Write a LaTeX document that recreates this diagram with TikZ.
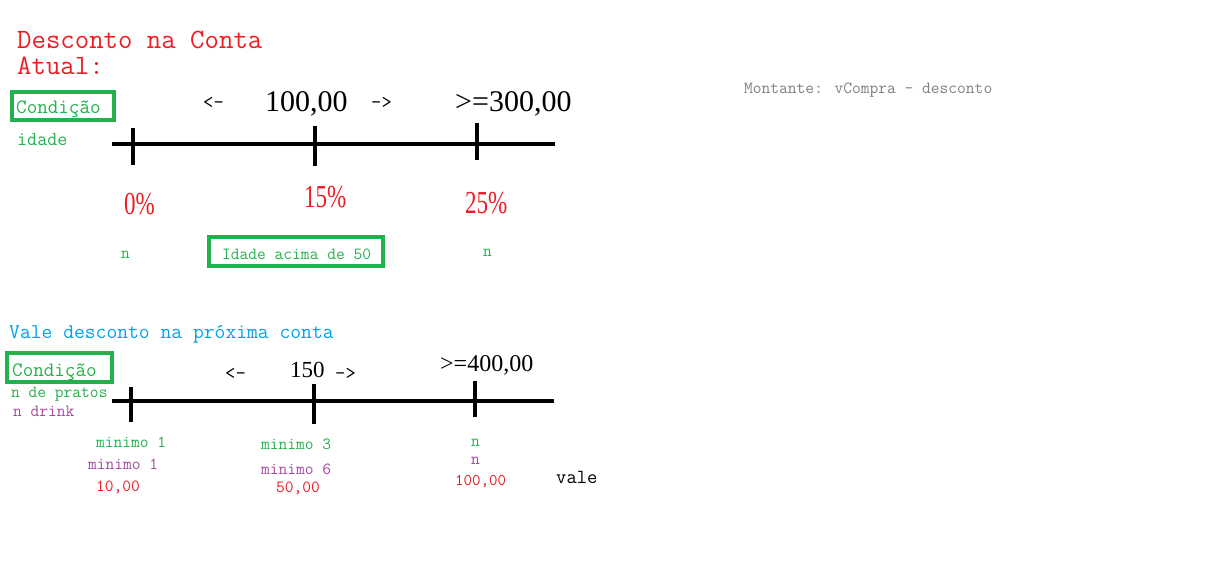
\documentclass[tikz,border=0pt]{standalone}
\usepackage{fontspec}
\setmainfont{Liberation Serif}
\usetikzlibrary{calc}

\definecolor{vermelho}{HTML}{ED1C24}
\definecolor{verde}{HTML}{22B14C}
\definecolor{azul}{HTML}{00A2E8}
\definecolor{roxo}{HTML}{A349A4}
\definecolor{cinza}{HTML}{7F7F7F}
\newcommand{\fsz}[1]{\fontsize{#1}{#1}\selectfont}

\begin{document}
\begin{tikzpicture}[x=1pt, y=-1pt,
  txt/.style={anchor=base west, inner sep=0pt},
  axisline/.style={line width=4.5pt},
  tickline/.style={line width=4.5pt},
  greenbox/.style={draw=verde, line width=3.5pt}]
\useasboundingbox (0,0) rectangle (1212,573);

% titulo
\node[txt, vermelho, align=left, font=\ttfamily\fontsize{28}{25.5}\selectfont] (tit) at (17,74) {Desconto na Conta\\Atual:};
\node[txt, cinza] (mont) at (744,93) {\ttfamily\fsz{17}Montante: vCompra - desconto};

% conta atual
\draw[greenbox] (12,92) rectangle (114,120);
\node[txt, verde] (cond1) at (16,113) {\ttfamily\fsz{20.5}Condição};
\node[txt, verde] (idade) at (17,145) {\ttfamily\fsz{19.5}idade};
\node[txt] (esq1) at (203,108) {\ttfamily\fsz{20}<-};
\node[txt] (val1) at (265,111) {\fsz{30}100,00};
\node[txt] (dir1) at (371,108) {\ttfamily\fsz{20}->};
\node[txt] (val2) at (455,111) {\fsz{30}>=300,00};

\coordinate (A0) at (112,144);
\coordinate (A1) at (555,144);
\draw[axisline] (A0) -- (A1);
\coordinate (T1a) at (133,128); \coordinate (T1b) at (133,165);
\coordinate (T2a) at (315,126); \coordinate (T2b) at (315,166);
\coordinate (T3a) at (477,123); \coordinate (T3b) at (477,160);
\draw[tickline] (T1a) -- (T1b);
\draw[tickline] (T2a) -- (T2b);
\draw[tickline] (T3a) -- (T3b);

\node[txt, vermelho, xscale=.72] (p0) at (124,214) {\fsz{32}0\%};
\node[txt, vermelho, xscale=.72] (p15) at (304,207) {\fsz{32}15\%};
\node[txt, vermelho, xscale=.72] (p25) at (465,213) {\fsz{32}25\%};

\node[txt, verde] (n1) at (121,258) {\ttfamily\fsz{17}n};
\node[txt, verde] (n2) at (483,256) {\ttfamily\fsz{17}n};
\draw[greenbox] (209,237) rectangle (383,266);
\node[txt, verde] (acima) at (222,259) {\ttfamily\fsz{17}Idade acima de 50};

% proxima conta
\node[txt, azul] (vale1) at (9,338) {\ttfamily\fsz{21}Vale desconto na próxima conta};
\draw[greenbox] (7,353) rectangle (112,382);
\node[txt, verde] (cond2) at (12,376) {\ttfamily\fsz{20.5}Condição};
\node[txt, verde] (prat) at (11,397) {\ttfamily\fsz{17}n de pratos};
\node[txt, roxo] (drink) at (13,416) {\ttfamily\fsz{17}n drink};
\node[txt] (esq2) at (225,379) {\ttfamily\fsz{20}<-};
\node[txt] (val3) at (290,377) {\fsz{23}150};
\node[txt] (dir2) at (335,379) {\ttfamily\fsz{20}->};
\node[txt] (val4) at (440,371) {\fsz{24}>=400,00};

\coordinate (B0) at (112,401);
\coordinate (B1) at (554,401);
\draw[axisline] (B0) -- (B1);
\coordinate (U1a) at (131,387); \coordinate (U1b) at (131,422);
\coordinate (U2a) at (314,384); \coordinate (U2b) at (314,424);
\coordinate (U3a) at (475,381); \coordinate (U3b) at (475,417);
\draw[tickline] (U1a) -- (U1b);
\draw[tickline] (U2a) -- (U2b);
\draw[tickline] (U3a) -- (U3b);

\node[txt, verde] (m1) at (96,447) {\ttfamily\fsz{17}minimo 1};
\node[txt, roxo] (m2) at (88,469) {\ttfamily\fsz{17}minimo 1};
\node[txt, vermelho] (r1) at (96,491) {\ttfamily\fsz{17}10,00};
\node[txt, verde] (m3) at (261,449) {\ttfamily\fsz{17}minimo 3};
\node[txt, roxo] (m4) at (261,474) {\ttfamily\fsz{17}minimo 6};
\node[txt, vermelho] (r2) at (276,492) {\ttfamily\fsz{17}50,00};
\node[txt, verde] (n3) at (471,446) {\ttfamily\fsz{17}n};
\node[txt, roxo] (n4) at (471,464) {\ttfamily\fsz{17}n};
\node[txt, vermelho] (r3) at (455,485) {\ttfamily\fsz{16.5}100,00};
\node[txt] (vale2) at (556,483) {\ttfamily\fsz{20}vale};

\end{tikzpicture}
\end{document}
